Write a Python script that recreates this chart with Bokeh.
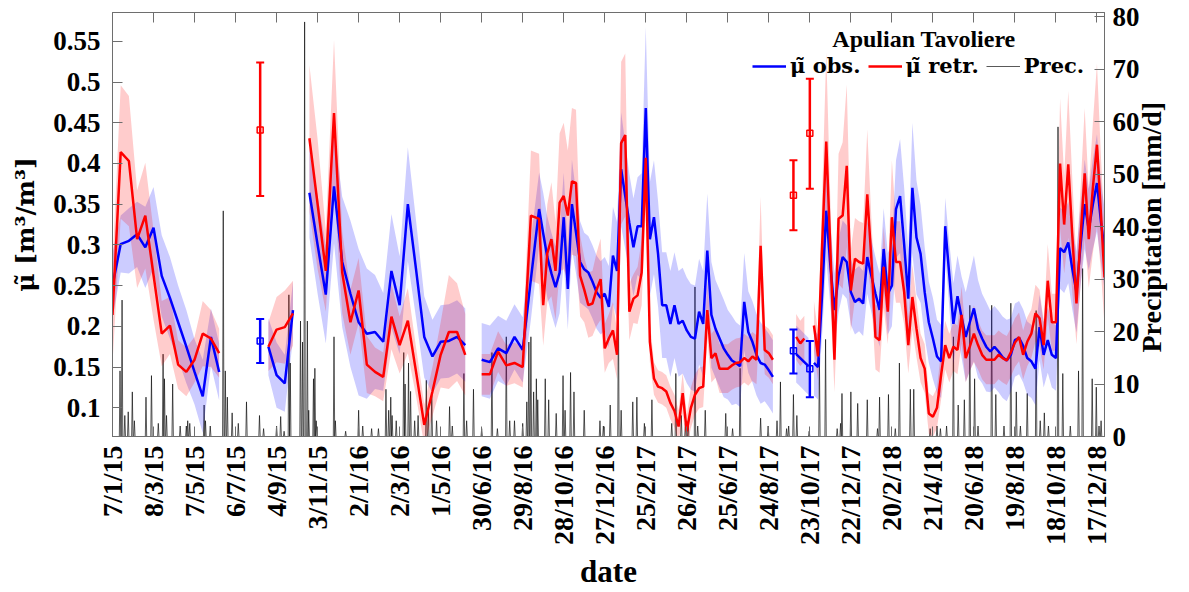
import math
from datetime import date
import numpy as np
from bokeh.plotting import figure
from bokeh.models import (Range1d, LinearAxis, FixedTicker, Legend, LegendItem, Label,
                          NumeralTickFormatter)
from bokeh.core.properties import value
from bokeh.embed import file_html
from bokeh.resources import INLINE

# ---------------- data ----------------
tick_labels = ["7/1/15", "8/3/15", "7/5/15", "6/7/15", "4/9/15", "3/11/15", "2/1/16",
               "2/3/16", "1/5/16", "30/6/16", "29/8/16", "28/10/16", "27/12/16", "25/2/17",
               "26/4/17", "25/6/17", "24/8/17", "23/10/17", "22/12/17", "20/2/18", "21/4/18",
               "20/6/18", "19/8/18", "18/10/18", "17/12/18"]
START = date(2015, 1, 7)
END_DAY = 1451

mu_ticks = [0.1, 0.15, 0.2, 0.25, 0.3, 0.35, 0.4, 0.45, 0.5, 0.55]
prec_ticks = [0, 10, 20, 30, 40, 50, 60, 70, 80]

# days since 7/1/2015
seg1_days = [0, 12, 24, 36, 48, 60, 72, 84, 96, 108, 120, 132, 144, 156]
seg1_obs = [0.25, 0.301, 0.305, 0.313, 0.297, 0.321, 0.262, 0.235, 0.205, 0.175, 0.144, 0.114, 0.187, 0.144]
seg1_obs_hw = [0.04, 0.035, 0.04, 0.04, 0.05, 0.05, 0.05, 0.05, 0.045, 0.045, 0.04, 0.045, 0.035, 0.035]
seg1_retr = [0.214, 0.414, 0.403, 0.307, 0.336, 0.263, 0.191, 0.201, 0.153, 0.144, 0.159, 0.191, 0.185, 0.167]
seg1_retr_hw = [0.06, 0.082, 0.08, 0.06, 0.065, 0.055, 0.04, 0.035, 0.03, 0.03, 0.028, 0.04, 0.035, 0.03]

seg2_days = [228, 240, 252, 264]
seg2_obs = [0.175, 0.140, 0.130, 0.220]
seg2_obs_hw = [0.035, 0.04, 0.035, 0.035]
seg2_retr = [0.175, 0.196, 0.199, 0.216]
seg2_retr_hw = [0.03, 0.04, 0.045, 0.04]

seg3_days = [288, 300, 312, 324, 336, 348, 360, 372, 384, 396, 408, 420, 432, 444, 456,
             468, 480, 492, 504, 516]
seg3_obs = [0.364, 0.30, 0.239, 0.372, 0.279, 0.240, 0.205, 0.191, 0.193, 0.181, 0.268, 0.226,
            0.350, 0.27, 0.187, 0.163, 0.181, 0.182, 0.187, 0.177]
seg3_obs_hw = [0.055, 0.06, 0.06, 0.07, 0.08, 0.09, 0.09, 0.08, 0.07, 0.06, 0.07, 0.06, 0.07,
               0.06, 0.05, 0.045, 0.045, 0.045, 0.045, 0.045]
seg3_retr = [0.431, 0.35, 0.268, 0.462, 0.266, 0.205, 0.244, 0.153, 0.144, 0.138, 0.212, 0.177,
             0.207, 0.144, 0.079, 0.12, 0.165, 0.193, 0.193, 0.165]
seg3_retr_hw = [0.09, 0.08, 0.05, 0.09, 0.05, 0.04, 0.04, 0.035, 0.03, 0.03, 0.04, 0.035, 0.04,
                0.03, 0.025, 0.03, 0.04, 0.07, 0.06, 0.05]

seg4_days = [540, 552, 564, 576, 588, 600, 612, 624, 630, 636, 642, 648, 654, 660, 666, 672,
             678, 684, 690, 696, 702, 708, 714, 720, 726, 732, 738, 744, 750, 756, 762, 768,
             774, 780, 786, 792, 798, 804, 810, 816, 822, 828, 834, 840, 846, 852, 858, 864,
             870, 876, 882, 888, 894, 900, 906, 912, 918, 924, 930, 936, 942, 948, 954, 960, 966]
seg4_obs = [0.159, 0.156, 0.173, 0.167, 0.187, 0.171, 0.258, 0.344, 0.314, 0.285, 0.265, 0.248,
            0.266, 0.334, 0.246, 0.350, 0.315, 0.279, 0.270, 0.266, 0.255, 0.242, 0.235, 0.240,
            0.224, 0.287, 0.268, 0.393, 0.360, 0.327, 0.297, 0.323, 0.323, 0.468, 0.307, 0.334,
            0.289, 0.226, 0.226, 0.203, 0.226, 0.203, 0.207, 0.195, 0.187, 0.185, 0.218, 0.203,
            0.293, 0.214, 0.197, 0.185, 0.173, 0.165, 0.158, 0.155, 0.151, 0.230, 0.193, 0.181,
            0.165, 0.155, 0.153, 0.146, 0.138]
seg4_obs_hw = [0.045, 0.045, 0.04, 0.04, 0.04, 0.04, 0.05, 0.045,
               0.05, 0.05, 0.05, 0.05, 0.05, 0.055, 0.05, 0.055,
               0.05, 0.05, 0.045, 0.045, 0.045, 0.045, 0.045, 0.045, 0.05,
               0.06, 0.06, 0.07, 0.065, 0.06, 0.06, 0.06, 0.065, 0.1,
               0.07, 0.07, 0.065, 0.065, 0.065, 0.065, 0.065, 0.065, 0.065, 0.065, 0.065, 0.065,
               0.065, 0.065,
               0.07, 0.065, 0.06, 0.06, 0.06, 0.055, 0.055, 0.05, 0.05, 0.06, 0.05, 0.05, 0.05,
               0.05, 0.045, 0.045, 0.045]
seg4_retr = [0.141, 0.141, 0.169, 0.152, 0.155, 0.150, 0.336, 0.332, 0.226, 0.290, 0.307, 0.268,
             0.352, 0.360, 0.336, 0.378, 0.376, 0.262, 0.245, 0.226, 0.228, 0.245, 0.258, 0.173,
             0.185, 0.195, 0.165, 0.425, 0.435, 0.218, 0.234, 0.238, 0.266, 0.407, 0.181, 0.136,
             0.126, 0.124, 0.120, 0.106, 0.096, 0.077, 0.118, 0.071, 0.100, 0.116, 0.124, 0.126,
             0.220, 0.161, 0.167, 0.148, 0.148, 0.148, 0.152, 0.155, 0.156, 0.161, 0.157, 0.163,
             0.159, 0.299, 0.171, 0.167, 0.159]
seg4_retr_hw = [0.025, 0.025, 0.025, 0.025, 0.025, 0.025, 0.08, 0.08,
                0.05, 0.06, 0.07, 0.06, 0.085, 0.09, 0.08, 0.09,
                0.09, 0.05, 0.04, 0.04, 0.04, 0.045, 0.05, 0.03, 0.03,
                0.035, 0.03, 0.1, 0.1, 0.035, 0.03, 0.035, 0.04, 0.06,
                0.025, 0.02, 0.02, 0.02, 0.02, 0.02, 0.02, 0.02, 0.025, 0.02, 0.025, 0.025, 0.025,
                0.025,
                0.035, 0.03, 0.03, 0.03, 0.03, 0.03, 0.03, 0.03, 0.03, 0.03, 0.03, 0.03, 0.03,
                0.06, 0.03, 0.03, 0.03]

frag_obs_days = [1000, 1006, 1012, 1018]
frag_obs = [0.166, 0.161, 0.156, 0.151]
frag_obs_hw = [0.035, 0.035, 0.035, 0.035]
frag_retr_days = [1000, 1006, 1012]
frag_retr = [0.187, 0.179, 0.185]
frag_retr_hw = [0.028, 0.028, 0.028]

seg6_days = [1026, 1032, 1038, 1044, 1050, 1056, 1062, 1068, 1074, 1080, 1086, 1092, 1098,
             1104, 1110, 1116, 1122, 1128, 1134, 1140, 1146, 1152, 1158, 1164, 1170, 1176,
             1182, 1188, 1194, 1200, 1206, 1212, 1218, 1224, 1230, 1236, 1242, 1248, 1254,
             1260, 1266, 1272, 1278, 1284, 1290, 1296, 1302, 1308, 1314, 1320, 1326, 1332,
             1338, 1344, 1350, 1356, 1362, 1368, 1374, 1380, 1386, 1392, 1398, 1404, 1410,
             1416, 1422, 1428, 1434, 1440, 1446, 1451]
seg6_obs = [0.155, 0.150, 0.240, 0.342, 0.275, 0.220, 0.262, 0.285, 0.279, 0.242, 0.230, 0.234,
            0.228, 0.285, 0.262, 0.240, 0.220, 0.295, 0.240, 0.250, 0.344, 0.360, 0.300, 0.234,
            0.370, 0.309, 0.289, 0.242, 0.205, 0.185, 0.163, 0.157, 0.323, 0.263, 0.203, 0.237,
            0.211, 0.187, 0.205, 0.222, 0.197, 0.185, 0.175, 0.169, 0.175, 0.169, 0.162, 0.158,
            0.165, 0.183, 0.186, 0.176, 0.161, 0.157, 0.148, 0.199, 0.165, 0.183, 0.165, 0.161,
            0.296, 0.291, 0.303, 0.270, 0.242, 0.300, 0.350, 0.319, 0.350, 0.376, 0.327, 0.295]
seg6_obs_hw = [0.04, 0.04, 0.05, 0.06,
               0.05, 0.045, 0.045, 0.045, 0.045, 0.04, 0.04, 0.04, 0.04, 0.045, 0.045, 0.045, 0.045,
               0.05, 0.05, 0.05, 0.06, 0.07, 0.07, 0.06, 0.08, 0.07, 0.06,
               0.055, 0.05, 0.05, 0.045, 0.045,
               0.035, 0.04, 0.05, 0.05, 0.05, 0.055, 0.06, 0.065, 0.06, 0.055, 0.055, 0.05, 0.05,
               0.05, 0.05, 0.05,
               0.045, 0.045, 0.045, 0.045, 0.045, 0.045, 0.045, 0.04, 0.04, 0.04, 0.04, 0.04,
               0.05, 0.05, 0.05, 0.05, 0.05, 0.05, 0.055, 0.05, 0.055, 0.06, 0.05, 0.05]
seg6_retr = [0.201, 0.163, 0.300, 0.427, 0.295, 0.159, 0.332, 0.336, 0.397, 0.244, 0.283, 0.279,
             0.277, 0.362, 0.283, 0.187, 0.183, 0.273, 0.218, 0.334, 0.279, 0.279, 0.242, 0.177,
             0.236, 0.197, 0.161, 0.148, 0.093, 0.089, 0.100, 0.140, 0.177, 0.161, 0.175, 0.171,
             0.214, 0.161, 0.175, 0.191, 0.177, 0.165, 0.159, 0.159, 0.159, 0.165, 0.161, 0.158,
             0.168, 0.180, 0.187, 0.165, 0.181, 0.191, 0.216, 0.210, 0.177, 0.256, 0.205, 0.205,
             0.400, 0.325, 0.399, 0.310, 0.228, 0.310, 0.388, 0.307, 0.370, 0.423, 0.335, 0.260]
seg6_retr_hw = [0.03, 0.03, 0.06, 0.11, 0.06, 0.04, 0.08, 0.09, 0.1,
                0.05, 0.05, 0.05, 0.05, 0.08, 0.05, 0.04, 0.04, 0.05, 0.04, 0.07, 0.05, 0.05,
                0.04, 0.035, 0.04, 0.035, 0.03, 0.03,
                0.025, 0.025, 0.025, 0.03,
                0.03, 0.03, 0.03, 0.03, 0.035, 0.03, 0.03, 0.035, 0.03, 0.03, 0.03, 0.03, 0.03,
                0.03, 0.03, 0.03, 0.03, 0.03, 0.03, 0.03, 0.03, 0.03,
                0.035, 0.035, 0.03, 0.045, 0.035, 0.035,
                0.08, 0.06, 0.09, 0.07, 0.05, 0.06, 0.08, 0.06, 0.08, 0.1, 0.07, 0.06]

# single-date estimates with error bars
eb_days = [216, 996, 1020]
eb_obs = [0.182, 0.170, 0.148]
eb_obs_lo = [0.155, 0.142, 0.113]
eb_obs_hi = [0.209, 0.196, 0.182]
eb_retr = [0.441, 0.361, 0.437]
eb_retr_lo = [0.360, 0.318, 0.369]
eb_retr_hi = [0.524, 0.404, 0.504]

# daily precipitation (mm/d), days with visible rain
prec_days = [11, 14, 18, 23, 29, 32, 49, 57, 67, 74, 76, 79, 88, 99, 108, 110, 113, 134, 136,
             143, 162, 165, 168, 175, 184, 196, 215, 221, 240, 246, 251, 258, 260, 275, 278, 281,
             285, 287, 294, 296, 298, 324, 326, 341, 360, 366, 379, 389, 400, 404, 407, 409, 415,
             426, 428, 433, 436, 442, 447, 459, 462, 467, 474, 493, 497, 514, 518, 528, 540, 555,
             563, 576, 581, 588, 600, 606, 609, 612, 616, 620, 622, 633, 638, 649, 659, 662, 670,
             675, 690, 713, 718, 728, 740, 744, 761, 767, 778, 789, 818, 824, 832, 838, 842, 852,
             856, 867, 897, 907, 918, 948, 959, 972, 977, 986, 989, 996, 1001, 1019, 1034, 1043,
             1060, 1065, 1067, 1080, 1090, 1104, 1119, 1122, 1135, 1145, 1151, 1167, 1172, 1196,
             1206, 1211, 1220, 1230, 1237, 1246, 1254, 1261, 1266, 1286, 1292, 1304, 1314, 1322,
             1328, 1338, 1351, 1357, 1363, 1369, 1383, 1390, 1401, 1413, 1419, 1433, 1439, 1443,
             1446]
prec_mm = [12.5, 26, 4, 4.7, 8.5, 3, 7.5, 11.6, 2.5, 15.7, 11, 4, 10, 2, 2, 3, 2.5, 6, 3,
           2, 43, 12.5, 7.5, 4.5, 2.5, 6.6, 4, 1.5, 2, 3.8, 1, 27, 14, 22, 18, 79,
           22, 5, 11, 13, 3, 19, 3, 1, 5, 2, 1.5, 1.5, 9, 5, 7.5, 4, 3,
           16, 10, 14, 8.6, 3, 4, 10.7, 5, 8, 3, 5.7, 2, 12, 3, 9, 1.5, 16,
           1.5, 19, 3, 3, 2.5, 6.6, 18, 19, 8.5, 11, 7, 11, 7, 4.4, 11.6, 5, 12.2,
           8.5, 5, 3, 2, 6, 27, 5, 6.6, 7.5, 2.5, 7, 2.5, 12, 4, 2.5, 3, 28.5,
           2, 5, 4.4, 1.5, 13, 3.5, 2, 3, 10.4, 1.5, 2, 8, 4, 1, 15, 18.5,
           1.5, 2.5, 8.2, 8.5, 6.3, 7, 1.5, 7.5, 8, 1.5, 14, 9, 9, 1.5,
           2, 1.5, 2, 19, 6, 7, 25, 11, 2, 25, 8, 2, 25.4, 8.5,
           2, 8.2, 24, 3, 4.5, 2, 59, 12, 2, 12.5, 32, 11, 9.4, 2,
           3]

# ---------------- figure ----------------
FONT = "Liberation Serif"
MUFONT = "DejaVu Serif"
AXC = "#6e6e6e"
BLUE = "#0000ff"
RED = "#ff0000"


def day_of(lbl):
    d, m, y = (int(t) for t in lbl.split("/"))
    return (date(2000 + y, m, d) - START).days


tick_days = [day_of(s) for s in tick_labels]

p = figure(width=1189, height=592, x_range=Range1d(0, END_DAY),
           y_range=Range1d(0.0647, 0.5854), output_backend="svg", toolbar_location=None,
           min_border_left=112, min_border_right=85, min_border_top=12, min_border_bottom=153)
p.extra_y_ranges = {"prec": Range1d(0, 80.8)}
p.xgrid.visible = False
p.ygrid.visible = False
p.outline_line_color = AXC
p.outline_line_width = 1
p.background_fill_color = "white"
p.border_fill_color = "white"


def style_axis(ax, font_size):
    ax.axis_line_color = AXC
    ax.major_tick_line_color = AXC
    ax.major_tick_in = 10
    ax.major_tick_out = 0
    ax.minor_tick_in = 0
    ax.minor_tick_out = 0
    ax.minor_tick_line_color = None
    ax.major_label_text_font = FONT
    ax.major_label_text_font_style = "bold"
    ax.major_label_text_font_size = font_size
    ax.major_label_text_color = "black"


xax = p.xaxis[0]
xax.ticker = FixedTicker(ticks=tick_days, minor_ticks=[])
xax.major_label_overrides = {d: s for d, s in zip(tick_days, tick_labels)}
xax.major_label_orientation = math.pi / 2
style_axis(xax, "28px")
xax.major_label_standoff = 9
xax.axis_label = "date"
xax.axis_label_text_font = FONT
xax.axis_label_text_font_style = "bold"
xax.axis_label_text_font_size = "31px"
xax.axis_label_text_color = "black"
xax.axis_label_standoff = 6

yax = p.yaxis[0]
yax.ticker = FixedTicker(ticks=mu_ticks, minor_ticks=[])
yax.formatter = NumeralTickFormatter(format="0.[00]")
style_axis(yax, "27px")
yax.major_label_standoff = 12
yax.axis_label = "\u03bc\u0303 [m\u00b3/m\u00b3]"
yax.axis_label_text_font = MUFONT
yax.axis_label_text_font_style = "bold"
yax.axis_label_text_font_size = "25px"
yax.axis_label_text_color = "black"
yax.axis_label_standoff = 10

top = LinearAxis(ticker=FixedTicker(ticks=tick_days, minor_ticks=[]))
style_axis(top, "0px")
top.major_label_standoff = 0
top.major_label_text_color = None
p.add_layout(top, "above")

right = LinearAxis(y_range_name="prec", ticker=FixedTicker(ticks=prec_ticks, minor_ticks=[]))
style_axis(right, "27px")
right.major_label_standoff = 8
right.axis_label_text_font = FONT
right.axis_label_text_font_style = "bold"
right.axis_label_text_font_size = "28px"
right.axis_label_text_color = "black"
right.axis_label_standoff = 9
RIGHT_LABEL = "Precipitation [mm/d]"
try:
    # anchor at the bottom of the axis and read bottom-to-top, as in the reference
    right.axis_label_align = "start"
    right.axis_label_orientation = math.pi / 2
    right.axis_label = "\u2003\u2003\u2003" + RIGHT_LABEL
except Exception:
    right.axis_label = RIGHT_LABEL
p.add_layout(right, "right")

# precipitation (daily line)
prec_daily = np.zeros(END_DAY + 1)
for d, v in zip(prec_days, prec_mm):
    prec_daily[d] = v
prec_r = p.line(np.arange(END_DAY + 1), prec_daily, y_range_name="prec",
                line_color="#111111", line_width=0.7)

obs_segments = [(seg1_days, seg1_obs, seg1_obs_hw), (seg2_days, seg2_obs, seg2_obs_hw),
                (seg3_days, seg3_obs, seg3_obs_hw), (seg4_days, seg4_obs, seg4_obs_hw),
                (frag_obs_days, frag_obs, frag_obs_hw), (seg6_days, seg6_obs, seg6_obs_hw)]
retr_segments = [(seg1_days, seg1_retr, seg1_retr_hw), (seg2_days, seg2_retr, seg2_retr_hw),
                 (seg3_days, seg3_retr, seg3_retr_hw), (seg4_days, seg4_retr, seg4_retr_hw),
                 (frag_retr_days, frag_retr, frag_retr_hw), (seg6_days, seg6_retr, seg6_retr_hw)]

for segs, col in ((obs_segments, BLUE), (retr_segments, RED)):
    for d, v, h in segs:
        lo = [a - b for a, b in zip(v, h)]
        hi = [a + b for a, b in zip(v, h)]
        p.varea(x=d, y1=lo, y2=hi, fill_color=col, fill_alpha=0.2)

obs_r = None
retr_r = None
for d, v, h in obs_segments:
    r = p.line(d, v, line_color=BLUE, line_width=2.5)
    obs_r = obs_r or r
for d, v, h in retr_segments:
    r = p.line(d, v, line_color=RED, line_width=2.5)
    retr_r = retr_r or r

# error bars
for c, lo, hi, mid in ((BLUE, eb_obs_lo, eb_obs_hi, eb_obs), (RED, eb_retr_lo, eb_retr_hi, eb_retr)):
    p.segment(x0=eb_days, y0=lo, x1=eb_days, y1=hi, line_color=c, line_width=2.5)
    p.scatter(eb_days, lo, marker="dash", size=8, line_color=c, line_width=2)
    p.scatter(eb_days, hi, marker="dash", size=8, line_color=c, line_width=2)
    p.scatter(eb_days, mid, marker="square", size=6, fill_color=None, line_color=c, line_width=1.5)

# legend
legend = Legend(items=[LegendItem(label=value("\u03bc\u0303 obs."), renderers=[obs_r]),
                       LegendItem(label=value("\u03bc\u0303 retr."), renderers=[retr_r]),
                       LegendItem(label=value("Prec."), renderers=[prec_r])],
                orientation="horizontal", location=(640, 358), padding=0, margin=0,
                spacing=7, label_standoff=4, glyph_width=34, glyph_height=20,
                border_line_color=None, background_fill_alpha=0,
                label_text_font=MUFONT, label_text_font_style="bold",
                label_text_font_size="21px", label_text_color="black")
p.add_layout(legend)

p.add_layout(Label(x=1187, y=0.5524, text="Apulian Tavoliere", text_align="center",
                   text_baseline="middle", text_font=FONT, text_font_style="bold",
                   text_font_size="24px", text_color="black"))

open("out.html", "w").write(file_html(p, INLINE))
